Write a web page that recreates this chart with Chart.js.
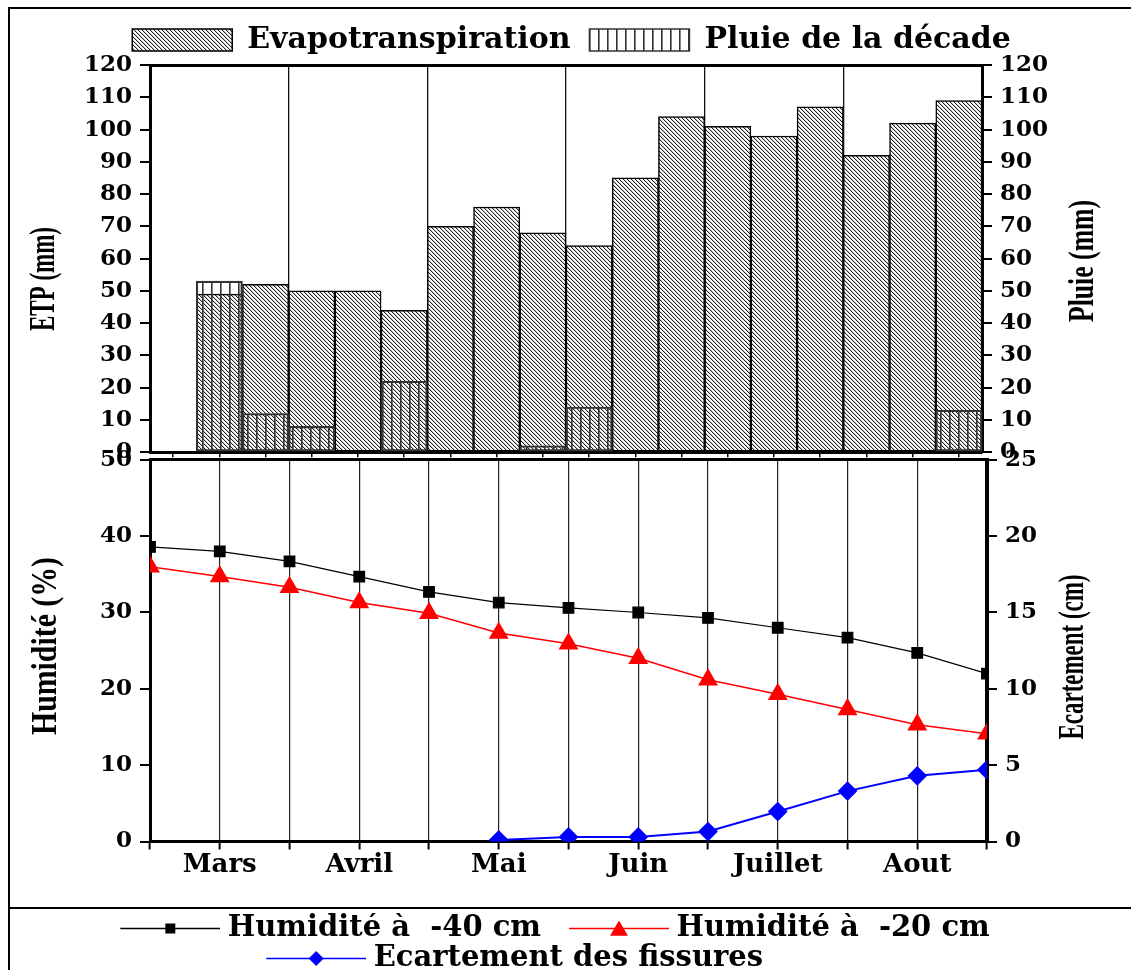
<!DOCTYPE html>
<html>
<head>
<meta charset="utf-8">
<script src="https://cdn.jsdelivr.net/npm/chart.js@4.4.1/dist/chart.umd.min.js"></script>
<style>
  html, body { margin: 0; padding: 0; background: #fff; overflow: hidden; }
  #wrap { position: relative; width: 1131px; height: 970px; }
  canvas { position: absolute; left: 0; }
  #topChart { top: 0; }
  #botChart { top: 438px; }
  .ln { position: absolute; background: #000; }
</style>
</head>
<body>
<div id="wrap">
  <div class="ln" style="left:8px;top:7px;width:1123px;height:2px"></div>
  <div class="ln" style="left:8px;top:7px;width:2px;height:963px"></div>
  <div class="ln" style="left:8px;top:907px;width:1123px;height:2px"></div>
  <canvas id="topChart" width="1131" height="474"></canvas>
  <canvas id="botChart" width="1131" height="545"></canvas>
</div>
<script>
// decades (top panel) and months (bottom panel)
const decades = ['Mars 1', 'Mars 2', 'Mars 3', 'Avril 1', 'Avril 2', 'Avril 3',
                 'Mai 1', 'Mai 2', 'Mai 3', 'Juin 1', 'Juin 2', 'Juin 3',
                 'Juillet 1', 'Juillet 2', 'Juillet 3', 'Aout 1', 'Aout 2', 'Aout 3'];
const etp = [null, 49, 52, 50, 50, 44, 70, 76, 68, 64, 85, 104, 101, 98, 107, 92, 102, 109];
const pluie = [null, 53, 12, 8, 0, 22, 0, 0, 2, 14, 0, 0, 0, 0, 0, 0, 0, 13];

const months = ['', 'Mars', '', 'Avril', '', 'Mai', '', 'Juin', '', 'Juillet', '', 'Aout', ''];
const hum40 = [38.6, 38.0, 36.7, 34.7, 32.7, 31.3, 30.6, 30.0, 29.3, 28.0, 26.7, 24.7, 22.0];
const hum20 = [36.0, 34.7, 33.3, 31.3, 29.9, 27.3, 25.9, 24.0, 21.2, 19.3, 17.3, 15.3, 14.1];
const fissures = [null, null, null, null, null, 0.1, 0.3, 0.3, 0.65, 1.96, 3.3, 4.3, 4.7];

Chart.defaults.font.family = '"DejaVu Serif"';
Chart.defaults.font.weight = 'bold';
Chart.defaults.color = '#000';

const tickFont = { family: '"DejaVu Serif"', size: 23, weight: 'bold' };
const monthFont = { family: '"DejaVu Serif"', size: 26, weight: 'bold' };

// fill patterns
function hatchPattern() {
  const s = 4;
  const c = document.createElement('canvas');
  c.width = s; c.height = s;
  const g = c.getContext('2d');
  g.fillStyle = '#fff';
  g.fillRect(0, 0, s, s);
  for (let i = 0; i < s; i++) {
    g.fillStyle = '#222';
    g.fillRect(i, i, 1, 1);
    g.fillStyle = '#c8c8c8';
    g.fillRect((i + 1) % s, i, 1, 1);
  }
  return g.createPattern(c, 'repeat');
}
function vlinePattern() {
  const c = document.createElement('canvas');
  c.width = 9; c.height = 4;
  const g = c.getContext('2d');
  g.fillStyle = '#333';
  g.fillRect(4, 0, 1.6, 4);
  return g.createPattern(c, 'repeat');
}

// rotated, squeezed axis titles
const sideTitles = {
  id: 'sideTitles',
  afterDraw(chart, args, opts) {
    const ctx = chart.ctx;
    opts.items.forEach(t => {
      ctx.save();
      ctx.font = 'bold 36px "Liberation Serif"';
      const w = ctx.measureText(t.text).width;
      ctx.translate(t.x, t.y);
      ctx.rotate(-Math.PI / 2);
      ctx.scale(t.len / w, 1);
      ctx.textAlign = 'center';
      ctx.textBaseline = 'middle';
      ctx.fillStyle = '#000';
      ctx.fillText(t.text, 0, 0);
      ctx.restore();
    });
  }
};

function yAxis(pos, max, step, width, borderW) {
  return {
    position: pos, min: 0, max: max,
    ticks: { stepSize: step, font: tickFont, color: '#000', padding: 8 },
    grid: { drawOnChartArea: false, tickLength: 10, color: '#000', lineWidth: 2 },
    border: { color: '#000', width: borderW },
    afterFit: s => { s.width = width; }
  };
}

// ---- top panel: ETP and rain per decade
new Chart(document.getElementById('topChart'), {
  type: 'bar',
  plugins: [sideTitles],
  data: {
    labels: decades,
    datasets: [{
      label: 'Evapotranspiration',
      data: etp,
      backgroundColor: hatchPattern(),
      borderColor: '#000',
      borderWidth: 1.5,
      borderSkipped: false,
      grouped: false,
      order: 2,
      barPercentage: 1,
      categoryPercentage: 1,
      yAxisID: 'y'
    }, {
      label: 'Pluie de la décade',
      data: pluie,
      backgroundColor: vlinePattern(),
      borderColor: '#333',
      borderWidth: 1.5,
      borderSkipped: false,
      grouped: false,
      order: 1,
      barPercentage: 1,
      categoryPercentage: 1,
      yAxisID: 'y2'
    }]
  },
  options: {
    responsive: false,
    animation: false,
    events: [],
    layout: { padding: { top: 6, left: 12, right: 0, bottom: 0 } },
    plugins: {
      tooltip: { enabled: false },
      legend: {
        labels: {
          boxWidth: 100, boxHeight: 22, padding: 19, color: '#000',
          font: { family: '"DejaVu Serif"', size: 30, weight: 'bold' },
          sort: (a, b) => a.datasetIndex - b.datasetIndex
        }
      },
      sideTitles: {
        items: [
          { text: 'ETP (mm)', x: 45, y: 279, len: 104 },
          { text: 'Pluie (mm)', x: 1084, y: 261, len: 122 }
        ]
      }
    },
    scales: {
      x: {
        type: 'category', offset: true,
        ticks: { display: false },
        grid: { offset: false, drawOnChartArea: false, tickLength: 5, color: '#000', lineWidth: 1.5 },
        border: { color: '#000', width: 3 },
        afterFit: s => { s.height = 9; }
      },
      xt: {
        type: 'category', position: 'top', offset: true,
        ticks: { display: false },
        grid: {
          offset: true, drawTicks: false, lineWidth: 1.3,
          color: c => (c.index > 0 && c.index % 3 === 0) ? '#111' : 'rgba(0,0,0,0)'
        },
        border: { color: '#000', width: 3 },
        afterFit: s => { s.height = 0; }
      },
      y: yAxis('left', 120, 10, 138, 3),
      y2: yAxis('right', 120, 10, 149, 3)
    }
  }
});

// ---- bottom panel: soil moisture and crack width
// legend icon: a 100px line with the marker in its middle, slightly wider than the legend box
function legendIcon(color, shape, size, lw) {
  const c = document.createElement('canvas');
  c.width = 134; c.height = 29;
  const g = c.getContext('2d');
  const cx = 84, cy = 14.5;
  g.strokeStyle = color;
  g.lineWidth = lw;
  g.beginPath(); g.moveTo(34, cy); g.lineTo(134, cy); g.stroke();
  g.fillStyle = color;
  g.beginPath();
  if (shape === 'rect') {
    g.rect(cx - size / 2, cy - size / 2, size, size);
  } else if (shape === 'triangle') {
    g.moveTo(cx - size / 2, cy + size * 0.4);
    g.lineTo(cx + size / 2, cy + size * 0.4);
    g.lineTo(cx, cy - size * 0.45);
    g.closePath();
  } else {
    g.moveTo(cx - size / 2, cy); g.lineTo(cx, cy - size / 2);
    g.lineTo(cx + size / 2, cy); g.lineTo(cx, cy + size / 2);
    g.closePath();
  }
  g.fill();
  return c;
}
const icons = [
  legendIcon('#000', 'rect', 10, 1.5),
  legendIcon('#ff0000', 'triangle', 18, 1.5),
  legendIcon('#0000ff', 'diamond', 15, 1.5)
];

new Chart(document.getElementById('botChart'), {
  type: 'line',
  plugins: [sideTitles],
  data: {
    labels: months,
    datasets: [{
      label: 'Humidité à  -40 cm',
      data: hum40,
      borderColor: '#000', backgroundColor: '#000',
      borderWidth: 1.2,
      pointStyle: 'rect', pointRadius: 7.5,
      clip: 0, yAxisID: 'y'
    }, {
      label: 'Humidité à  -20 cm',
      data: hum20,
      borderColor: '#ff0000', backgroundColor: '#ff0000',
      borderWidth: 1.5,
      pointStyle: 'triangle', pointRadius: 10,
      clip: 0, yAxisID: 'y'
    }, {
      label: 'Ecartement des fissures',
      data: fissures,
      borderColor: '#0000ff', backgroundColor: '#0000ff',
      borderWidth: 2,
      pointStyle: 'rectRot', pointRadius: 8.5,
      clip: 0, yAxisID: 'y1'
    }]
  },
  options: {
    responsive: false,
    animation: false,
    events: [],
    layout: { padding: { top: 9, left: 0, right: 48, bottom: 0 } },
    plugins: {
      tooltip: { enabled: false },
      legend: {
        position: 'bottom',
        labels: {
          usePointStyle: true, pointStyleWidth: 120, boxHeight: 29, padding: 1, color: '#000',
          font: { family: '"DejaVu Serif"', size: 29, weight: 'bold' },
          // the last entry sits left of centre in the original: pad its text on the right
          generateLabels: chart => Chart.defaults.plugins.legend.labels.generateLabels(chart)
            .map(l => Object.assign(l, {
              pointStyle: icons[l.datasetIndex],
              text: l.datasetIndex === 2 ? l.text + '\u00a0'.repeat(8) : l.text
            }))
        }
      },
      sideTitles: {
        items: [
          { text: 'Humidité (%)', x: 47, y: 208, len: 178 },
          { text: 'Ecartement (cm)', x: 1074, y: 219, len: 165 }
        ]
      }
    },
    scales: {
      x: {
        type: 'category', offset: false,
        ticks: { font: monthFont, color: '#000', padding: 0, autoSkip: false, maxRotation: 0 },
        grid: { color: '#222', lineWidth: 1.2, tickLength: 8, tickColor: '#000', tickWidth: 2 },
        border: { color: '#000', width: 3 },
        afterFit: s => { s.height = 71.5; }
      },
      xt: {
        type: 'category', position: 'top',
        ticks: { display: false },
        grid: { drawOnChartArea: false, drawTicks: false },
        border: { color: '#000', width: 3 },
        afterFit: s => { s.height = 0; }
      },
      y: yAxis('left', 50, 10, 150, 3),
      y1: yAxis('right', 25, 5, 96, 4)
    }
  }
});
</script>
</body>
</html>
